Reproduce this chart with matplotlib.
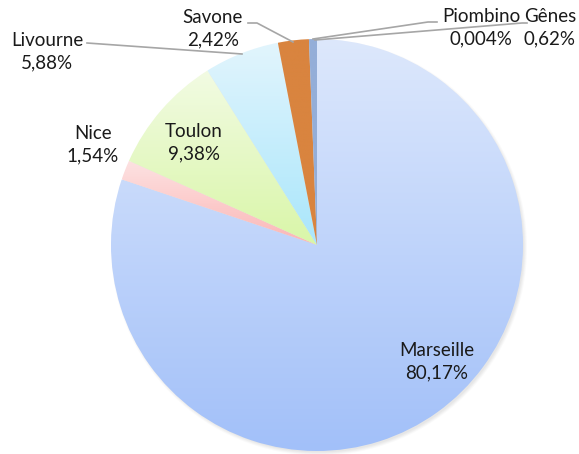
import numpy as np
import matplotlib
matplotlib.use('Agg')
import matplotlib.pyplot as plt
from matplotlib.colors import LinearSegmentedColormap
from matplotlib.patches import Circle

plt.rcParams['font.family'] = ['Lato', 'DejaVu Sans']

# données
ports = ['Marseille', 'Nice', 'Toulon', 'Livourne', 'Savone', 'Piombino', 'Gênes']
parts = [80.17, 1.54, 9.38, 5.88, 2.42, 0.004, 0.62]
labels_pct = ['80,17%', '1,54%', '9,38%', '5,88%', '2,42%', '0,004%', '0,62%']

# dégradés (haut, bas) de chaque part
couleurs = [('#dde8fc', '#a2c0f9'),
            ('#fde2e2', '#fbb6b6'),
            ('#f2fbe3', '#d9f6a8'),
            ('#e2f5fd', '#a9e6fb'),
            ('#d9843f', '#d9843f'),
            ('#94aed8', '#94aed8'),
            ('#94aed8', '#94aed8')]

W, H = 579, 454
cx, cy, R = 317, H - 245, 206

fig = plt.figure(figsize=(W / 100, H / 100), dpi=100)
ax = fig.add_axes([0, 0, 1, 1])

# ombre légère
for i, a in enumerate([0.04, 0.05, 0.05, 0.06]):
    ax.add_patch(Circle((cx + 2, cy - 2.5), R + 2 - i, color='#808080', alpha=a, lw=0, zorder=0))

wedges, _ = ax.pie(parts, startangle=90, counterclock=False, center=(cx, cy), radius=R,
                   wedgeprops=dict(linewidth=0), frame=True)

# remplissage en dégradé vertical
for w, (c1, c2) in zip(wedges, couleurs):
    bb = w.get_path().get_extents()
    cmap = LinearSegmentedColormap.from_list('g', [c2, c1])
    grad = np.linspace(0, 1, 256).reshape(-1, 1)
    w.set_facecolor('none')
    im = ax.imshow(grad, cmap=cmap, extent=(bb.x0, bb.x1, bb.y0, bb.y1), origin='lower',
                   aspect='auto', zorder=1)
    im.set_clip_path(w)
    w.set_zorder(2)

ax.set_xlim(0, W)
ax.set_ylim(0, H)
ax.axis('off')

# étiquettes (position en pixels depuis le haut)
pos = {'Marseille': (437, 362), 'Nice': (93, 145), 'Toulon': (194, 143),
       'Livourne': (47, 52), 'Savone': (213, 29), 'Piombino': (481, 28), 'Gênes': (550, 28)}
for nom, pct in zip(ports, labels_pct):
    x, y = pos[nom]
    ax.text(x, H - y, nom + '\n' + pct, ha='center', va='center', fontsize=13.5,
            color='#1a1a1a', linespacing=1.4, zorder=5)

# lignes de rappel
lignes = [[(87, 43), (242, 54)],
          [(248, 23), (257, 23), (293, 42)],
          [(437, 22), (428, 22), (313, 39)],
          [(527, 23), (522, 23), (315, 40)]]
for pts in lignes:
    xs = [p[0] for p in pts]
    ys = [H - p[1] for p in pts]
    ax.plot(xs, ys, color='#a6a6a6', lw=1.2, zorder=4)

fig.savefig('out.png', dpi=100)
